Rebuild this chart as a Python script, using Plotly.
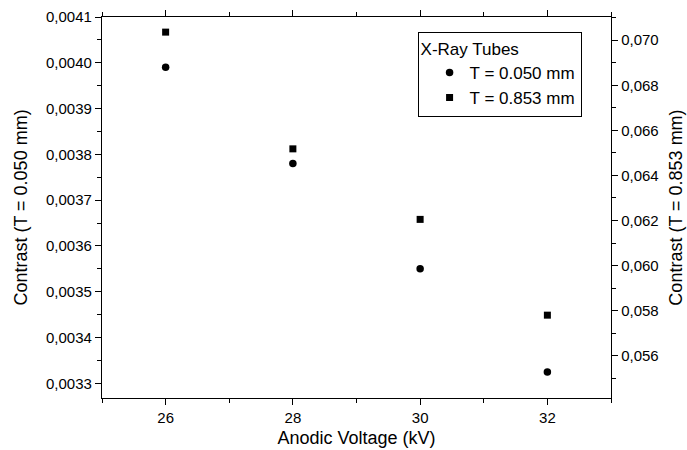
import plotly.graph_objects as go

voltage = [26, 28, 30, 32]
contrast_050 = [0.00399, 0.00378, 0.00355, 0.003325]
contrast_853 = [0.07036, 0.06518, 0.06205, 0.0578]
x_ticks = [26, 28, 30, 32]
left_ticks = [0.0033, 0.0034, 0.0035, 0.0036, 0.0037, 0.0038, 0.0039, 0.0040, 0.0041]
right_ticks = [0.056, 0.058, 0.060, 0.062, 0.064, 0.066, 0.068, 0.070]

FONT = "Arial, Liberation Sans, sans-serif"

fig = go.Figure()
fig.add_trace(go.Scatter(x=voltage, y=contrast_050, mode="markers", name="T = 0.050 mm",
                         marker=dict(symbol="circle", size=7.5, color="black"), yaxis="y"))
fig.add_trace(go.Scatter(x=voltage, y=contrast_853, mode="markers", name="T = 0.853 mm",
                         marker=dict(symbol="square", size=7, color="black"), yaxis="y2"))

axis_common = dict(showline=True, linecolor="black", linewidth=1.3, ticks="outside",
                   tickcolor="black", tickwidth=1.2, ticklen=6, showgrid=False, zeroline=False,
                   automargin=False,
                   tickfont=dict(family=FONT, size=15, color="black"))

fig.update_layout(
    width=687, height=450,
    margin=dict(l=102, r=76, t=17, b=52),
    paper_bgcolor="white", plot_bgcolor="white",
    separators=",.",
    font=dict(family=FONT, color="black"),
    xaxis=dict(range=[25, 33], tickvals=x_ticks, mirror="ticks",
               minor=dict(dtick=1, ticks="outside", ticklen=4, tickcolor="black", tickwidth=1.2),
               title=dict(text="Anodic Voltage (kV)", font=dict(family=FONT, size=18), standoff=6),
               **axis_common),
    yaxis=dict(range=[0.003268, 0.0041], tickvals=left_ticks, tickformat=".4f",
               minor=dict(dtick=0.00005, tick0=0.0033, ticks="outside", ticklen=4, tickcolor="black", tickwidth=1.2),
               title=dict(text="Contrast (T = 0.050 mm)", font=dict(family=FONT, size=18), standoff=13),
               **axis_common),
    yaxis2=dict(range=[0.054124, 0.071031], tickvals=right_ticks, tickformat=".3f", overlaying="y", side="right",
                minor=dict(dtick=0.001, tick0=0.056, ticks="outside", ticklen=4, tickcolor="black", tickwidth=1.2),
                title=dict(text="Contrast (T = 0.853 mm)", font=dict(family=FONT, size=18), standoff=11),
                **axis_common),
    legend=dict(x=0.62, y=0.961, xanchor="left", yanchor="top", bordercolor="black", borderwidth=1,
                bgcolor="white", indentation=11, tracegroupgap=0,
                title=dict(text="X-Ray Tubes", font=dict(family=FONT, size=17)),
                font=dict(family=FONT, size=17)),
    showlegend=True,
)

fig.write_html("out.html", config={"displayModeBar": False},
               post_script="document.body.style.margin='0';document.body.style.padding='0';")
